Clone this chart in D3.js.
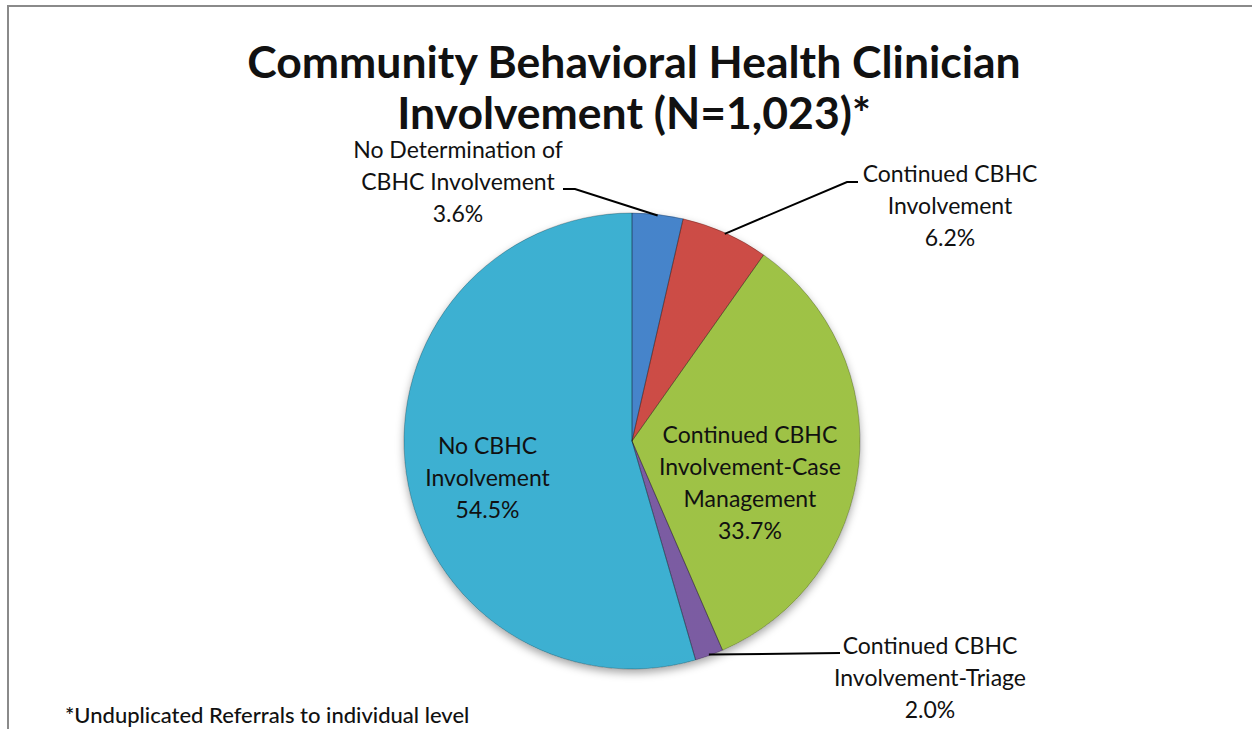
<!DOCTYPE html>
<html><head><meta charset="utf-8">
<script src="https://cdn.jsdelivr.net/npm/d3@7"></script>
<style>
body{margin:0;background:#fff;}
svg{display:block;}
text{font-family:Lato,"Open Sans",sans-serif;fill:#111;}
</style>
</head><body>
<svg id="chart" width="1252" height="729"></svg>
<script>
// ---------- data ----------
const categories = [
  "No Determination of CBHC Involvement",
  "Continued CBHC Involvement",
  "Continued CBHC Involvement-Case Management",
  "Continued CBHC Involvement-Triage",
  "No CBHC Involvement"
];
const labelLines = [
  ["No Determination of", "CBHC Involvement"],
  ["Continued CBHC", "Involvement"],
  ["Continued CBHC", "Involvement-Case", "Management"],
  ["Continued CBHC", "Involvement-Triage"],
  ["No CBHC", "Involvement"]
];
const values = [3.6, 6.2, 33.7, 2.0, 54.5];
const titleLines = ["Community Behavioral Health Clinician", "Involvement (N=1,023)*"];
const footnote = "*Unduplicated Referrals to individual level";

// ---------- styles / layout ----------
const colorTop = ["#5096e6", "#e8574f", "#b4dc4f", "#8c68b8", "#45c8ee"];
const colorBot = ["#3a76c4", "#c9433f", "#8eae38", "#6e4e98", "#2a98b8"];
const W = 1252, H = 729;
const cx = 632, cy = 441, R = 228;
const labelLayout = [
  {type: "out", x: 458, y: 158, lead: [[575, 189], [563, 189]]},
  {type: "out", x: 950, y: 182, lead: [[847, 182], [858, 182]]},
  {type: "in", r: 0.52, dx: 0, dy: 30},
  {type: "out", x: 930, y: 654, lead: [[840, 653]]},
  {type: "in", r: 0.64, dx: 0, dy: 16}
];
const lineH = 32, labelFont = 23;

const svg = d3.select("#chart");
const defs = svg.append("defs");

// frame
svg.append("line").attr("x1", 7).attr("x2", W).attr("y1", 6).attr("y2", 6)
  .attr("stroke", "#8a8a8a").attr("stroke-width", 2);
svg.append("line").attr("x1", 8).attr("x2", 8).attr("y1", 5).attr("y2", H)
  .attr("stroke", "#8a8a8a").attr("stroke-width", 2);

// title
const title = svg.append("text").attr("text-anchor", "middle")
  .attr("font-weight", 700).attr("font-size", 44.5);
title.selectAll("tspan").data(titleLines).join("tspan")
  .attr("x", 634).attr("y", (d, i) => 78 + i * 51).text(d => d);

// gradients
values.forEach((v, i) => {
  const g = defs.append("linearGradient").attr("id", "g" + i)
    .attr("gradientUnits", "userSpaceOnUse")
    .attr("x1", 0).attr("y1", cy - R).attr("x2", 0).attr("y2", cy + R);
  g.append("stop").attr("offset", "0%").attr("stop-color", colorTop[i]);
  g.append("stop").attr("offset", "55%").attr("stop-color", d3.interpolateRgb(colorTop[i], colorBot[i])(0.35));
  g.append("stop").attr("offset", "100%").attr("stop-color", colorBot[i]);
});
const rg = defs.append("radialGradient").attr("id", "rim")
  .attr("gradientUnits", "userSpaceOnUse").attr("cx", cx).attr("cy", cy).attr("r", R);
rg.append("stop").attr("offset", "0%").attr("stop-color", "#fff").attr("stop-opacity", 0);
rg.append("stop").attr("offset", "90%").attr("stop-color", "#fff").attr("stop-opacity", 0);
rg.append("stop").attr("offset", "96%").attr("stop-color", "#fff").attr("stop-opacity", 0.14);
rg.append("stop").attr("offset", "100%").attr("stop-color", "#000").attr("stop-opacity", 0.12);

const shadow = defs.append("filter").attr("id", "sh")
  .attr("x", "-10%").attr("y", "-10%").attr("width", "120%").attr("height", "125%");
shadow.append("feDropShadow").attr("dx", 0).attr("dy", 4).attr("stdDeviation", 4)
  .attr("flood-color", "#000").attr("flood-opacity", 0.35);

// pie
const pie = d3.pie().sort(null).value(d => d);
const arcs = pie(values);
const arc = d3.arc().innerRadius(0).outerRadius(R);

const gPie = svg.append("g").attr("transform", `translate(${cx},${cy})`);
const base = gPie.append("g").attr("filter", "url(#sh)");
base.selectAll("path").data(arcs).join("path")
  .attr("d", arc).attr("fill", (d, i) => `url(#g${i})`);

// bevel highlights per slice
arcs.forEach((d, i) => {
  defs.append("clipPath").attr("id", "cp" + i)
    .append("path").attr("d", arc(d)).attr("transform", `translate(${cx},${cy})`);
});
const bev = svg.append("g");
arcs.forEach((d, i) => {
  bev.append("path").attr("d", arc(d)).attr("transform", `translate(${cx},${cy})`)
    .attr("clip-path", `url(#cp${i})`)
    .attr("fill", "none").attr("stroke", "#fff").attr("stroke-opacity", 0.16)
    .attr("stroke-width", 14).attr("stroke-linejoin", "round");
});
gPie.append("circle").attr("r", R).attr("fill", "url(#rim)");
gPie.append("g").selectAll("path").data(arcs).join("path")
  .attr("d", arc).attr("fill", "none")
  .attr("stroke", "#000").attr("stroke-opacity", 0.25).attr("stroke-width", 1);

// labels
const fmt = v => v.toFixed(1) + "%";
arcs.forEach((d, i) => {
  const L = labelLayout[i];
  const lines = labelLines[i].concat([fmt(values[i])]);
  let x, y0;
  if (L.type === "in") {
    const a = (d.startAngle + d.endAngle) / 2;
    x = cx + Math.sin(a) * R * L.r + L.dx;
    const yc = cy - Math.cos(a) * R * L.r + L.dy;
    y0 = yc - (lines.length - 1) * lineH / 2 + labelFont * 0.35;
  } else {
    x = L.x; y0 = L.y;
    const a = (d.startAngle + d.endAngle) / 2;
    const p0 = [cx + Math.sin(a) * (R - 1), cy - Math.cos(a) * (R - 1)];
    const pts = [p0].concat(L.lead);
    svg.append("path").attr("d", d3.line()(pts))
      .attr("fill", "none").attr("stroke", "#000").attr("stroke-width", 2);
  }
  const t = svg.append("text").attr("text-anchor", "middle").attr("font-size", labelFont);
  t.selectAll("tspan").data(lines).join("tspan")
    .attr("x", x).attr("y", (s, j) => y0 + j * lineH).text(s => s);
});

// footnote
svg.append("text").attr("x", 65).attr("y", 723).attr("font-size", 22)
  .attr("font-weight", 500).text(footnote);
</script>
</body></html>
